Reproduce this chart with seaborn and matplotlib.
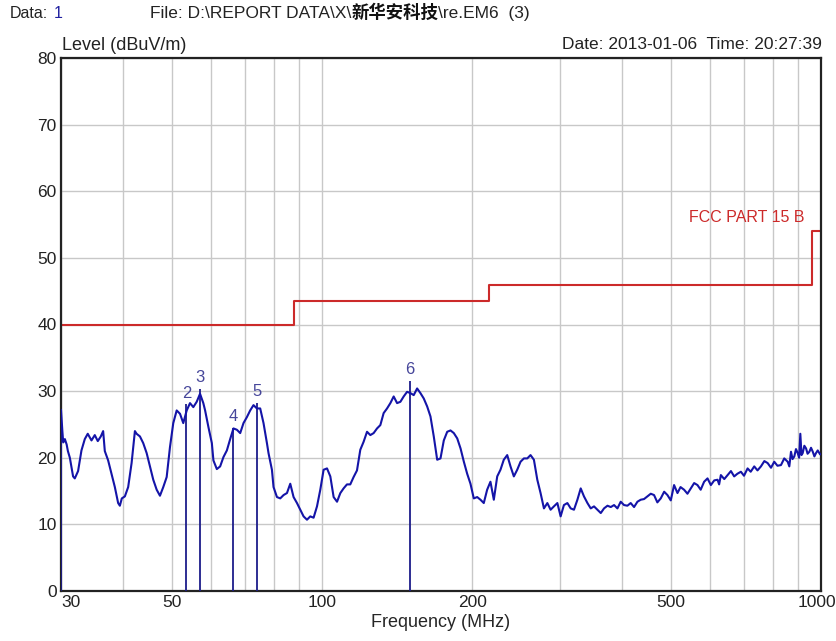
import numpy as np
import pandas as pd
import matplotlib
matplotlib.use("Agg")
import matplotlib.pyplot as plt
import matplotlib.transforms as mtransforms
import seaborn as sns
from matplotlib import font_manager as fm

# ------------------------------------------------------------
# data (frequency in MHz, level in dBuV/m)
# ------------------------------------------------------------
freq_mhz = [
    30.0, 30.19, 30.31, 30.54, 30.79, 30.97, 31.25, 31.72, 31.97, 32.46,
    32.97, 33.48, 33.94, 34.53, 35.06, 35.55, 36.05, 36.44, 36.72, 37.29,
    38.16, 38.46, 39.05, 39.36, 39.72, 40.28, 40.90, 41.55, 42.19, 42.52,
    43.18, 43.84, 44.54, 45.22, 45.92, 46.65, 47.36, 48.09, 48.85, 49.60,
    50.36, 51.16, 51.95, 52.74, 53.58, 54.40, 55.24, 56.11, 56.98, 57.85,
    58.33, 59.23, 60.17, 60.61, 61.57, 62.52, 63.48, 64.49, 65.48, 66.48,
    67.54, 68.58, 69.63, 70.73, 71.81, 72.92, 74.07, 75.21, 76.37, 77.58,
    78.15, 79.39, 79.98, 81.25, 82.50, 83.77, 85.09, 86.40, 87.73, 89.12,
    90.49, 91.87, 93.33, 94.76, 96.22, 97.74, 99.24, 100.77, 102.37, 103.94,
    105.54, 107.21, 108.86, 110.50, 112.24, 113.96, 115.72, 117.55, 119.36, 121.20,
    123.12, 125.01, 126.93, 128.94, 130.92, 132.93, 135.04, 137.12, 139.23, 141.44,
    143.61, 145.82, 148.13, 150.41, 152.72, 155.14, 157.53, 159.95, 162.49, 164.99,
    167.52, 170.18, 172.80, 175.46, 178.24, 180.98, 183.77, 186.68, 189.55, 192.47,
    195.43, 198.43, 201.49, 204.67, 207.8, 211.0, 214.3, 217.6, 221.0, 224.5,
    227.9, 231.4, 235.1, 238.7, 242.4, 246.2, 250.0, 253.9, 257.9, 261.8,
    265.9, 270.1, 274.2, 278.5, 282.9, 287.2, 291.6, 296.3, 300.8, 305.4,
    310.3, 315.1, 319.9, 325.0, 330.0, 335.0, 340.4, 345.6, 350.9, 356.5,
    362.0, 367.5, 373.4, 379.1, 384.9, 390.9, 396.9, 403.0, 409.3, 415.6,
    422.1, 428.7, 435.3, 442.0, 449.0, 455.9, 462.9, 470.0, 477.4, 485.0,
    492.4, 500.0, 507.7, 515.7, 523.0, 531.7, 540.0, 548.4, 557.0, 565.6,
    574.0, 583.2, 592.4, 601.6, 611.0, 620.5, 625.0, 630.0, 640.0, 649.8,
    660.0, 669.9, 680.0, 691.0, 701.0, 712.7, 723.0, 734.9, 746.0, 757.9,
    770.0, 781.8, 794.0, 806.0, 818.0, 831.4, 844.0, 857.6, 864.0, 870.7,
    877.0, 884.1, 891.0, 898.1, 904.0, 909.0, 914.0, 919.0, 926.0, 933.4,
    940.0, 947.8, 955.0, 962.8, 970.0, 977.2, 985.0, 992.2, 996.0,
]
level_dbuv = [
    27.2, 24.0, 22.3, 22.8, 22.0, 21.0, 20.0, 17.2, 16.9, 18.0,
    21.1, 22.8, 23.6, 22.6, 23.4, 22.5, 23.2, 24.0, 21.0, 19.6,
    16.6, 15.6, 13.2, 12.8, 13.9, 14.2, 15.6, 19.2, 24.0, 23.6,
    23.2, 22.2, 20.7, 18.7, 16.7, 15.2, 14.3, 15.6, 17.1, 21.6,
    25.2, 27.1, 26.6, 25.2, 27.1, 28.2, 27.6, 28.4, 29.6, 28.2,
    27.1, 24.6, 22.2, 19.6, 18.3, 18.7, 20.1, 21.1, 22.8, 24.4,
    24.2, 23.7, 25.2, 26.1, 27.1, 27.9, 27.4, 27.4, 25.2, 22.2,
    20.7, 18.2, 15.6, 14.1, 13.9, 14.4, 14.7, 16.1, 14.1, 13.2,
    12.2, 11.2, 10.7, 11.2, 11.0, 12.7, 15.2, 18.2, 18.4, 17.2,
    14.1, 13.4, 14.7, 15.4, 16.0, 16.0, 17.1, 18.1, 21.2, 22.4,
    23.9, 23.4, 23.7, 24.4, 24.9, 26.7, 27.4, 28.2, 29.2, 28.2,
    28.4, 29.2, 29.9, 29.7, 29.4, 30.4, 29.7, 28.9, 27.7, 26.2,
    23.2, 19.7, 19.9, 22.6, 23.9, 24.1, 23.7, 22.9, 21.4, 19.4,
    17.6, 16.1, 13.9, 14.1, 13.7, 13.2, 15.2, 16.4, 13.7, 17.2,
    18.2, 19.7, 20.4, 18.7, 17.2, 18.2, 19.4, 19.9, 19.9, 20.4,
    19.7, 16.7, 14.7, 12.4, 13.2, 12.2, 12.7, 13.2, 11.2, 12.9,
    13.2, 12.4, 12.2, 13.7, 15.4, 14.2, 13.2, 12.4, 12.7, 12.2,
    11.7, 12.4, 12.8, 12.6, 12.9, 12.4, 13.4, 12.9, 12.8, 13.2,
    12.6, 13.4, 13.7, 13.8, 14.2, 14.6, 14.4, 13.3, 13.9, 14.9,
    14.4, 13.6, 15.9, 14.7, 15.6, 15.2, 14.6, 15.4, 16.2, 15.9,
    15.2, 16.4, 16.9, 15.9, 16.6, 16.7, 16.0, 17.4, 16.8, 17.4,
    18.0, 17.2, 17.6, 17.9, 17.3, 18.4, 17.9, 18.7, 18.1, 18.7,
    19.5, 19.2, 18.5, 19.4, 18.8, 18.9, 19.9, 19.4, 18.7, 20.9,
    19.8, 20.2, 21.3, 20.7, 20.0, 23.6, 20.4, 20.7, 21.8, 21.4,
    20.6, 20.9, 21.5, 20.9, 20.2, 20.7, 21.1, 20.7, 20.5,
]

# FCC Part 15 class B limit (steps)
limit_freq = [30, 88, 216, 960, 1000]
limit_level = [40, 43.5, 46, 54, 54]

# peak markers
marker_ids = [1, 2, 3, 4, 5, 6]
marker_freq = [30.0, 53.5, 57.0, 66.4, 74.0, 150.0]
marker_level = [27.0, 28.0, 30.3, 24.5, 28.2, 31.5]

x_ticks = [30, 50, 100, 200, 500, 1000]
x_minor = [40, 60, 70, 80, 90, 300, 400, 600, 700, 800, 900]
y_ticks = [0, 10, 20, 30, 40, 50, 60, 70, 80]

# ------------------------------------------------------------
sns.set_style("whitegrid", {"grid.color": "#c8c8c8", "axes.edgecolor": "#222222"})
names = {f.name for f in fm.fontManager.ttflist}
base_font = "Liberation Sans Narrow" if "Liberation Sans Narrow" in names else "Liberation Sans"
plt.rcParams["font.family"] = [base_font, "Noto Sans CJK SC", "DejaVu Sans"]

W, H = 837, 641
fig = plt.figure(figsize=(W / 100, H / 100), dpi=100)
ax = fig.add_axes([61 / W, 50 / H, 760 / W, 533 / H])

trace = pd.DataFrame({"freq": freq_mhz, "level": level_dbuv})
limit = pd.DataFrame({"freq": limit_freq, "level": limit_level})

sns.lineplot(data=limit, x="freq", y="level", color="#cc2a2a", lw=1.5,
             drawstyle="steps-post", estimator=None, sort=False, ax=ax)
ax.vlines(marker_freq, 0, marker_level, color="#1c1c8a", lw=1.3, zorder=3)
sns.lineplot(data=trace, x="freq", y="level", color="#1414a8", lw=1.5,
             estimator=None, sort=False, ax=ax, zorder=4)

for mid, mf, ml in zip(marker_ids[1:], marker_freq[1:], marker_level[1:]):
    ax.text(mf, ml + 1.7, str(mid), ha="center", va="center",
            fontsize=12, color="#46469a")

ax.text(925, 56.0, "FCC PART 15 B", ha="right", va="center",
        fontsize=11.5, color="#cc2a2a")

ax.set_xscale("log")
ax.set_xlim(30, 1000)
ax.set_ylim(0, 80)
ax.set_xticks(x_ticks)
ax.set_xticklabels([str(t) for t in x_ticks])
ax.set_xticks(x_minor, minor=True)
ax.set_xticklabels([], minor=True)
ax.set_yticks(y_ticks)
ax.set_yticklabels([str(t) for t in y_ticks])
ax.tick_params(axis="both", which="both", length=0, labelsize=12.5,
               labelcolor="#222222", pad=3)
xlabels = ax.get_xticklabels()
xlabels[0].set_ha("left")
xlabels[-1].set_ha("right")
xlabels[-1].set_transform(xlabels[-1].get_transform() +
                          mtransforms.ScaledTranslation(15 / 100, 0, fig.dpi_scale_trans))
ax.grid(True, which="both", color="#c8c8c8", lw=1)
for sp in ax.spines.values():
    sp.set_linewidth(1.6)
    sp.set_color("#222222")
ax.set_xlabel("Frequency (MHz)", fontsize=13, labelpad=3)
ax.set_ylabel("")

# header texts
fig.text(10 / W, 1 - 18 / H, "Data:", fontsize=11.5, color="#222222")
fig.text(54 / W, 1 - 18 / H, "1", fontsize=11.5, color="#2020a0")
fig.canvas.draw()
rend = fig.canvas.get_renderer()
t1 = fig.text(150 / W, 1 - 18 / H, "File: D:\\REPORT DATA\\X\\", fontsize=12.5, color="#222222")
x1 = t1.get_window_extent(rend).x1
t2 = fig.text(x1 / W, 1 - 18 / H, "新华安科技", fontsize=12.5, weight="bold",
              family=["Noto Sans CJK SC", "DejaVu Sans"], color="#111111")
x2 = t2.get_window_extent(rend).x1
fig.text(x2 / W, 1 - 18 / H, "\\re.EM6  (3)", fontsize=12.5, color="#222222")

fig.text(62 / W, 1 - 50 / H, "Level (dBuV/m)", fontsize=13, color="#222222")
fig.text(822 / W, 1 - 49 / H, "Date: 2013-01-06  Time: 20:27:39", fontsize=12.5,
         ha="right", color="#222222")

fig.savefig("out.png", dpi=100)
